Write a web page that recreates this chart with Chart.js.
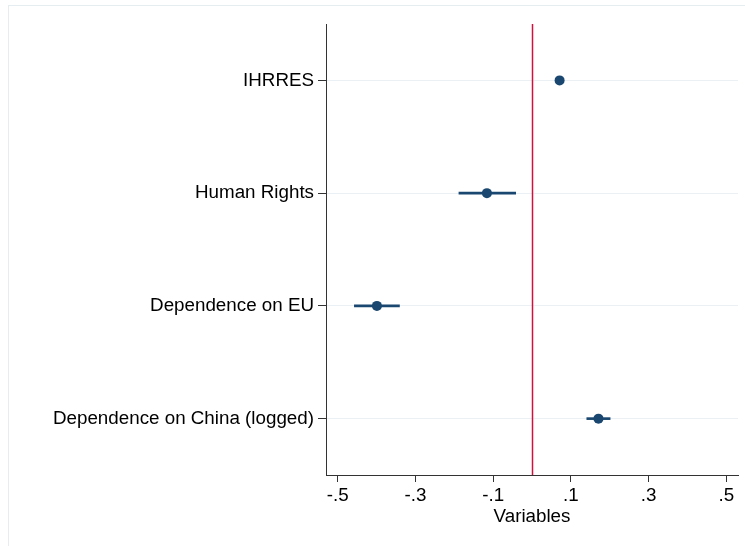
<!DOCTYPE html>
<html>
<head>
<meta charset="utf-8">
<script src="https://cdn.jsdelivr.net/npm/chart.js@4"></script>
<style>
  html, body { margin: 0; padding: 0; background: #fff; }
  #wrap { position: relative; width: 745px; height: 546px; overflow: hidden; }
  #frame { position: absolute; left: 8px; top: 5px; width: 800px; height: 600px;
    border-top: 1px solid #e6edf0; border-left: 1px solid #e6edf0; }
  #chart { position: absolute; left: 0; top: 0; }
</style>
</head>
<body>
<div id="wrap">
  <div id="frame"></div>
  <canvas id="chart" width="745" height="546"></canvas>
</div>
<script>
// Data
const variables = ['IHRRES', 'Human Rights', 'Dependence on EU', 'Dependence on China (logged)'];
const coefs = [0.071, -0.116, -0.399, 0.171];
const ciLow = [0.067, -0.188, -0.457, 0.141];
const ciHigh = [0.075, -0.042, -0.341, 0.201];
const xTicks = [-0.5, -0.3, -0.1, 0.1, 0.3, 0.5];
const xTickLabels = ['-.5', '-.3', '-.1', '.1', '.3', '.5'];
const refLine = 0;

const NAVY = '#1a476f';
const RED = '#d2103c';
const FONT = { family: '"Liberation Sans", Helvetica, Arial, sans-serif', size: 18.8 };

// vertical reference line at x = 0
const refLinePlugin = {
  id: 'refLine',
  beforeDatasetsDraw(chart) {
    const { ctx, chartArea, scales } = chart;
    const x = Math.round(scales.x.getPixelForValue(refLine)) + 0.5;
    ctx.save();
    ctx.strokeStyle = RED;
    ctx.lineWidth = 1.5;
    ctx.beginPath();
    ctx.moveTo(x, chartArea.top);
    ctx.lineTo(x, chartArea.bottom);
    ctx.stroke();
    ctx.restore();
  }
};

new Chart(document.getElementById('chart'), {
  type: 'bar',
  data: {
    labels: variables,
    datasets: [
      {
        type: 'bar',
        label: 'CI',
        data: variables.map((_, i) => [ciLow[i], ciHigh[i]]),
        backgroundColor: NAVY,
        barThickness: 2,
        borderWidth: 0,
        borderSkipped: false,
        order: 2
      },
      {
        type: 'line',
        label: 'Coefficient',
        indexAxis: 'y',
        data: coefs,
        showLine: false,
        pointRadius: 5,
        pointBackgroundColor: NAVY,
        pointBorderWidth: 0,
        order: 1
      }
    ]
  },
  options: {
    indexAxis: 'y',
    responsive: false,
    animation: false,
    devicePixelRatio: 1,
    layout: { padding: { top: 24, right: 7, left: 0, bottom: 18 } },
    plugins: {
      legend: { display: false },
      tooltip: { enabled: false }
    },
    scales: {
      x: {
        type: 'linear',
        min: -0.53,
        max: 0.53,
        afterBuildTicks: scale => { scale.ticks = xTicks.map(v => ({ value: v })); },
        afterFit: scale => { scale.height = 53; },
        ticks: {
          callback: (v, i) => xTickLabels[i],
          color: '#000',
          font: FONT,
          padding: 3,
          autoSkip: false,
          maxRotation: 0
        },
        grid: { drawOnChartArea: false, tickColor: '#333', tickLength: 7 },
        border: { color: '#333', width: 1 },
        title: { display: true, text: 'Variables', color: '#000', font: FONT, padding: { top: 0, bottom: 0 } }
      },
      y: {
        type: 'category',
        offset: true,
        afterFit: scale => { scale.width = 326; },
        ticks: { color: '#000', font: FONT, padding: 4 },
        grid: { offset: false, color: '#eaf0f3', tickColor: '#333', tickLength: 8 },
        border: { color: '#333', width: 1 }
      }
    }
  },
  plugins: [refLinePlugin]
});
</script>
</body>
</html>
